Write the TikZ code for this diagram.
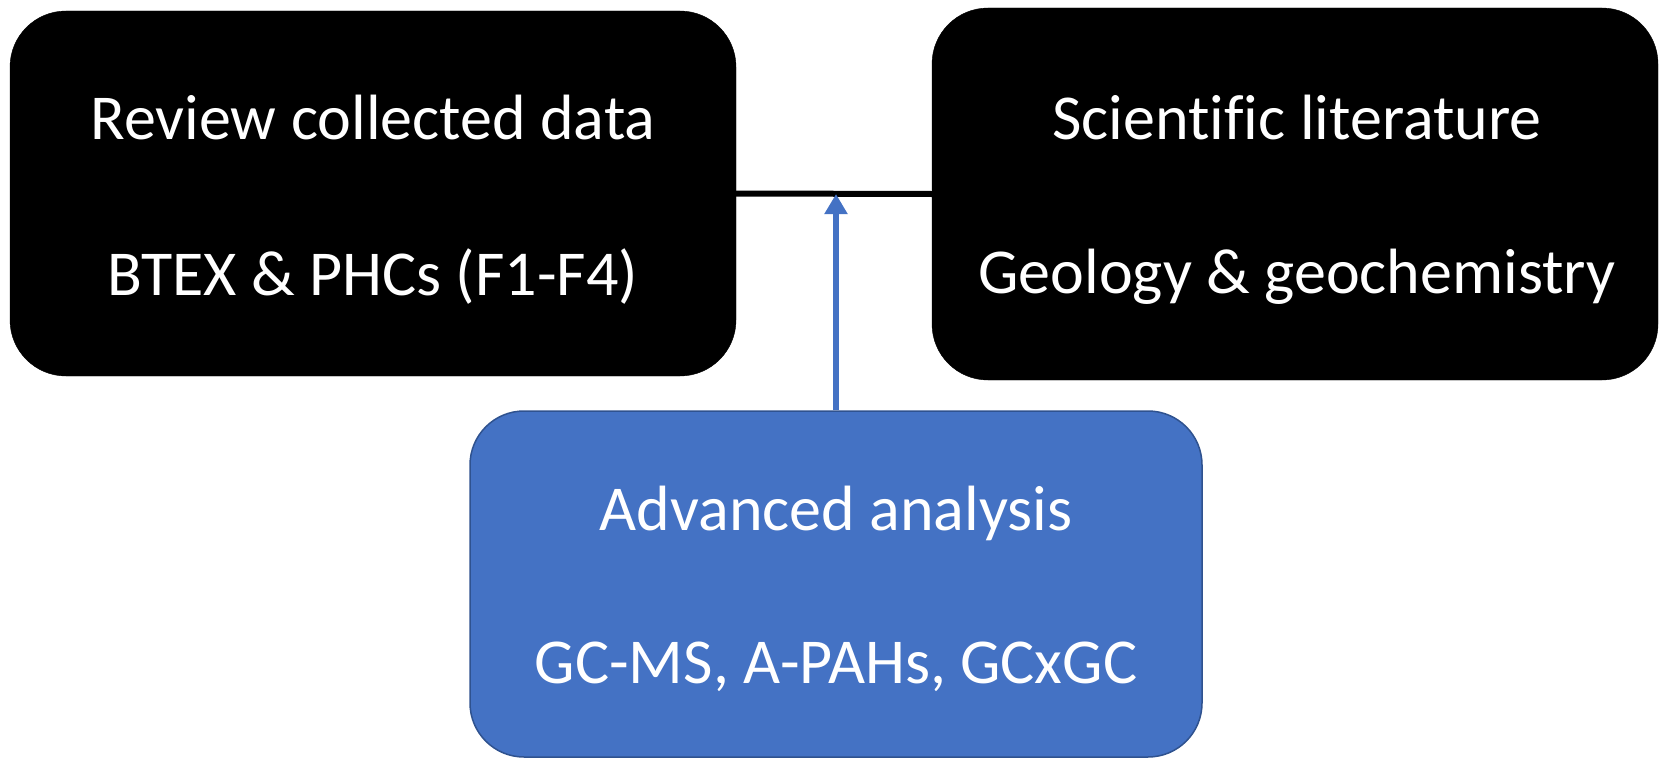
\documentclass[tikz,border=0pt]{standalone}
\usepackage{fontspec}
\setmainfont[Ligatures=NoCommon]{Carlito}
\usetikzlibrary{arrows.meta}
\definecolor{accentblue}{HTML}{4472C4}
\definecolor{accentedge}{HTML}{2F528F}
\tikzset{
  darkbox/.style={draw=black, fill=black, rounded corners=56pt, inner sep=0pt},
  bluebox/.style={draw=accentedge, line width=1.5pt, fill=accentblue, rounded corners=54pt, inner sep=0pt},
  label/.style={text=white, font=\fontsize{64}{76}\selectfont, inner sep=0pt},
  link/.style={draw=black, line width=6pt},
  feed/.style={draw=accentblue, line width=6pt, -{Triangle[length=20pt,width=22pt]}}
}
\begin{document}
\begin{tikzpicture}[x=1pt,y=-1pt]
  \useasboundingbox (0,0) rectangle (1659,760);
  % source boxes
  \node[darkbox, minimum width=726pt, minimum height=365pt] (rev) at (373,193.5) {};
  \node[darkbox, minimum width=726pt, minimum height=372pt] (lit) at (1295,194) {};
  % analysis box
  \node[bluebox, minimum width=732pt, minimum height=346pt] (adv) at (836,584) {};
  % texts
  \node[label] (rev1) at (373,118) {Review collected data};
  \node[label] (rev2) at (373,277) {BTEX \& PHCs (F1-F4)};
  \node[label] (lit1) at (1297,118) {Scientific literature};
  \node[label] (lit2) at (1297,277) {Geology \& geochemistry};
  \node[label] (adv1) at (836,513) {Advanced analysis};
  \node[label] (adv2) at (836,667) {GC-MS, A-PAHs, GCxGC};
  % connectors
  \draw[link] (rev.east) -- (lit.west);
  \coordinate (join) at (836,194);
  \draw[feed] (adv.north) -- (join);
\end{tikzpicture}
\end{document}
